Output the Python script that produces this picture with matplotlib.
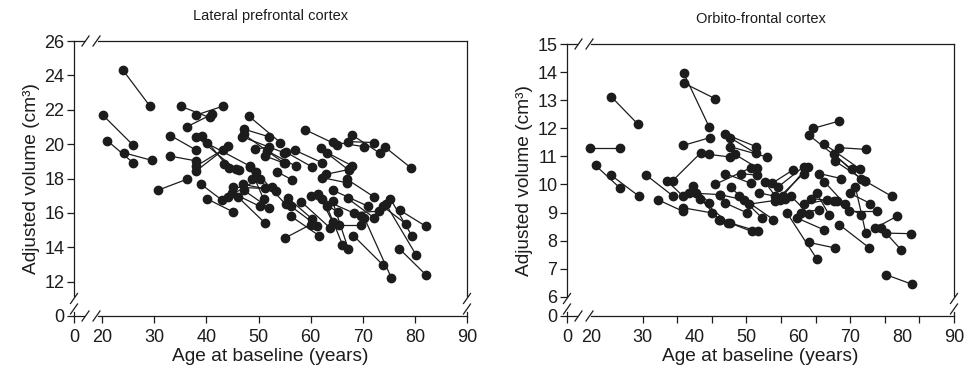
import matplotlib
matplotlib.use("Agg")
import matplotlib.pyplot as plt
import numpy as np

plt.rcParams['font.family'] = ['Liberation Sans', 'DejaVu Sans']

# (baseline age, baseline volume, follow-up age, follow-up volume)
lpfc_pairs = [
    (24.0, 24.3, 29.2, 22.2), (20.1, 21.7, 25.9, 19.95), (21.0, 20.2, 26.0, 18.9),
    (24.1, 19.5, 29.6, 19.05), (35.1, 22.2, 40.6, 21.55), (38.1, 21.7, 43.1, 22.2),
    (36.2, 21.0, 41.1, 21.74), (33.1, 20.5, 38.1, 19.64), (33.1, 19.3, 38.1, 19.02),
    (38.1, 18.73, 43.1, 19.66), (39.2, 20.48, 44.3, 18.63), (38.1, 20.44, 45.6, 18.53),
    (40.1, 20.05, 48.3, 18.73), (43.3, 18.82, 46.2, 18.47), (30.8, 17.33, 36.2, 17.95),
    (38.0, 18.43, 44.2, 19.89), (39.0, 17.66, 43.0, 16.74), (40.1, 16.82, 45.1, 16.06),
    (44.9, 17.17, 50.2, 16.39), (45.1, 17.5, 51.3, 17.42), (46.0, 16.94, 51.2, 15.42),
    (47.1, 17.66, 53.3, 17.27), (47.2, 17.31, 52.0, 16.3), (48.3, 18.67, 51.0, 16.78),
    (48.7, 17.95, 52.6, 17.5), (44.2, 16.94, 50.2, 18.0), (49.5, 18.4, 55.2, 16.49),
    (48.1, 21.64, 54.2, 20.09), (47.2, 20.87, 52.1, 20.42), (46.9, 20.42, 54.9, 19.5),
    (47.2, 20.57, 54.9, 18.9), (49.3, 19.7, 52.1, 19.84), (51.3, 19.31, 55.0, 18.88),
    (51.7, 19.6, 57.1, 18.73), (55.2, 19.54, 60.3, 18.67), (57.0, 19.64, 62.2, 18.92),
    (59.0, 20.83, 65.1, 19.95), (64.3, 20.13, 70.3, 19.85), (67.1, 20.15, 72.2, 20.09),
    (68.0, 20.52, 73.3, 19.47), (74.2, 19.84, 79.2, 18.63), (61.9, 19.76, 67.4, 18.47),
    (63.2, 19.5, 68.0, 18.73), (62.2, 18.05, 67.0, 17.75), (62.9, 18.24, 67.4, 18.53),
    (67.0, 17.95, 72.2, 16.92), (64.3, 17.31, 71.0, 16.39), (60.0, 17.0, 65.3, 16.04),
    (58.2, 16.65, 63.7, 15.13), (63.1, 16.39, 66.1, 14.16), (64.2, 16.68, 67.2, 13.92),
    (65.4, 15.32, 69.6, 15.32), (68.2, 14.68, 73.8, 12.99), (70.3, 15.71, 75.5, 12.21),
    (68.3, 16.0, 73.1, 16.1), (75.3, 16.82, 79.4, 14.68), (74.4, 16.53, 80.2, 13.57),
    (77.2, 16.14, 82.1, 15.22), (77.0, 13.92, 82.1, 12.4), (73.8, 16.39, 78.3, 15.36),
    (55.1, 14.54, 60.0, 15.32), (56.2, 15.81, 61.6, 14.68), (55.6, 16.88, 60.2, 15.67),
    (62.1, 16.82, 69.6, 15.81), (61.5, 17.11, 64.2, 15.48), (53.5, 18.4, 56.5, 17.91),
    (67.1, 16.84, 72.2, 15.71), (56.2, 16.39, 61.3, 15.23),
]

ofc_pairs = [
    (19.8, 11.31, 25.7, 11.31), (23.9, 13.13, 29.1, 12.14), (20.9, 10.68, 25.7, 9.86),
    (23.9, 10.33, 29.3, 9.58), (30.7, 10.33, 35.9, 9.58), (32.9, 9.46, 37.7, 9.05),
    (34.6, 10.14, 37.8, 9.58), (35.8, 10.14, 41.2, 11.13), (37.9, 13.96, 42.8, 12.05),
    (37.9, 13.61, 43.9, 13.06), (37.8, 11.39, 43.0, 11.67), (42.8, 11.07, 46.8, 10.98),
    (45.9, 11.79, 51.8, 11.35), (46.8, 11.67, 51.8, 11.11), (46.8, 11.35, 53.9, 10.98),
    (47.8, 11.07, 52.0, 10.6), (39.0, 9.7, 44.9, 9.64), (39.7, 9.94, 42.8, 9.34),
    (37.8, 9.17, 43.3, 8.99), (40.2, 9.7, 44.8, 8.73), (41.0, 9.5, 46.5, 8.63),
    (45.9, 10.39, 50.9, 10.04), (48.9, 10.39, 52.0, 10.33), (43.9, 10.0, 50.9, 10.6),
    (44.9, 9.64, 49.5, 9.45), (45.9, 9.34, 50.1, 8.99), (46.8, 8.63, 51.0, 8.33),
    (44.7, 8.75, 52.3, 8.33), (47.0, 9.9, 53.0, 8.81), (48.5, 9.6, 55.2, 8.75),
    (50.5, 9.3, 56.5, 9.46), (52.5, 9.7, 57.5, 9.5), (54.9, 10.04, 58.9, 10.51),
    (56.0, 9.9, 61.0, 10.63), (57.0, 9.6, 61.8, 10.63), (55.5, 9.4, 61.0, 10.39),
    (57.8, 8.99, 63.6, 7.34), (59.7, 8.81, 64.9, 8.39), (62.0, 7.94, 67.1, 7.74),
    (62.9, 12.0, 67.9, 12.26), (62.1, 11.75, 70.3, 10.54), (64.9, 11.45, 71.8, 10.56),
    (67.9, 11.31, 73.0, 11.25), (66.8, 11.1, 72.0, 10.2), (67.1, 10.83, 72.9, 10.12),
    (64.0, 10.39, 68.3, 10.21), (72.9, 10.12, 78.0, 9.58), (70.0, 9.68, 73.9, 9.32),
    (69.7, 9.05, 75.2, 9.05), (66.8, 9.4, 72.1, 8.93), (67.9, 8.57, 73.7, 7.74),
    (74.8, 8.45, 79.0, 8.87), (76.8, 8.27, 81.8, 8.25), (76.0, 8.45, 79.8, 7.68),
    (76.9, 6.79, 81.9, 6.45), (61.0, 9.3, 65.5, 9.45), (62.5, 9.5, 67.5, 9.4),
    (60.5, 9.0, 64.0, 9.1), (63.5, 9.7, 66.0, 8.9), (58.5, 9.6, 62.0, 8.95),
    (65.0, 10.1, 69.0, 9.3), (71.0, 9.9, 73.0, 8.27), (53.5, 10.1, 55.5, 9.6),
]

x_labels = ['0', '20', '30', '40', '50', '60', '70', '80', '90']

fig = plt.figure(figsize=(9.65, 3.74), dpi=100)
ink = '#1c1c1c'


def draw_panel(ax, pairs, title, ylo, ytop, yticks, xlo, xmarks):
    for a0, v0, a1, v1 in pairs:
        ax.plot([a0, a1], [v0, v1], '-', color=ink, lw=0.9, zorder=2)
    arr = np.array(pairs)
    ax.plot(np.r_[arr[:, 0], arr[:, 2]], np.r_[arr[:, 1], arr[:, 3]], 'o',
            color=ink, ms=6.0, mec=ink, zorder=3, ls='none')
    ax.set_xlim(xlo, 90)
    ax.set_ylim(ylo, ytop)
    for s in ax.spines.values():
        s.set_visible(False)

    # y ticks: bottom one is labelled 0 (broken axis)
    ax.set_yticks([ylo] + yticks)
    ax.set_yticklabels(['0'] + [str(t) for t in yticks])
    # x: labels on major ticks (no marks), marks on minor ticks
    ax.xaxis.remove_overlapping_locs = False
    ax.set_xticks([xlo, 20, 30, 40, 50, 60, 70, 80, 90])
    ax.set_xticklabels(x_labels)
    ax.set_xticks(xmarks, minor=True)
    ax.tick_params(axis='x', which='major', length=0, pad=9, labelsize=13, labelcolor=ink)
    ax.tick_params(axis='x', which='minor', length=5, width=0.9, color=ink)
    ax.tick_params(axis='y', length=5, width=0.9, color=ink, labelsize=13,
                   labelcolor=ink, pad=2)

    # frame with break marks
    bb = ax.get_window_extent()
    w, h = bb.width, bb.height
    dx, dy = 3.5 / w, 5.0 / h
    kw = dict(transform=ax.transAxes, color=ink, lw=0.9, clip_on=False, zorder=4)
    b1, b2 = 17.5 / h, 7.0 / h     # vertical break centres
    c1, c2 = 11.5 / w, 22.5 / w    # horizontal break centres
    for xx in (0, 1):
        ax.plot([xx, xx], [b1 + dy * 0.6, 1], **kw)
        ax.plot([xx, xx], [0, b2 - dy * 0.6], **kw)
        for yy in (b1, b2):
            ax.plot([xx - dx, xx + dx], [yy - dy, yy + dy], **kw)
    for yy in (0, 1):
        ax.plot([0, c1 - dx * 0.5], [yy, yy], **kw)
        ax.plot([c2 + dx * 0.5, 1], [yy, yy], **kw)
        for xx in (c1, c2):
            ax.plot([xx - dx, xx + dx], [yy - dy, yy + dy], **kw)

    ax.set_title(title, fontsize=10.5, color=ink, pad=15)
    ax.set_xlabel('Age at baseline (years)', fontsize=13.8, color=ink, labelpad=2)
    ax.set_ylabel('Adjusted volume (cm³)', fontsize=13.8, color=ink, labelpad=3)


ax1 = fig.add_axes([74 / 965, 1 - 316 / 374, 393 / 965, 275 / 374])
ax2 = fig.add_axes([567 / 965, 1 - 316 / 374, 387 / 965, 272 / 374])

draw_panel(ax1, lpfc_pairs, 'Lateral prefrontal cortex', 10.0, 26,
           [12, 14, 16, 18, 20, 22, 24, 26], 14.6,
           [14.6, 20, 30, 40, 50, 60, 70, 80, 90])
draw_panel(ax2, ofc_pairs, 'Orbito-frontal cortex', 5.32, 15,
           [6, 7, 8, 9, 10, 11, 12, 13, 14, 15], 15.4,
           [15.4] + list(np.linspace(30, 90, 10)))

fig.savefig('out.png', dpi=100)
